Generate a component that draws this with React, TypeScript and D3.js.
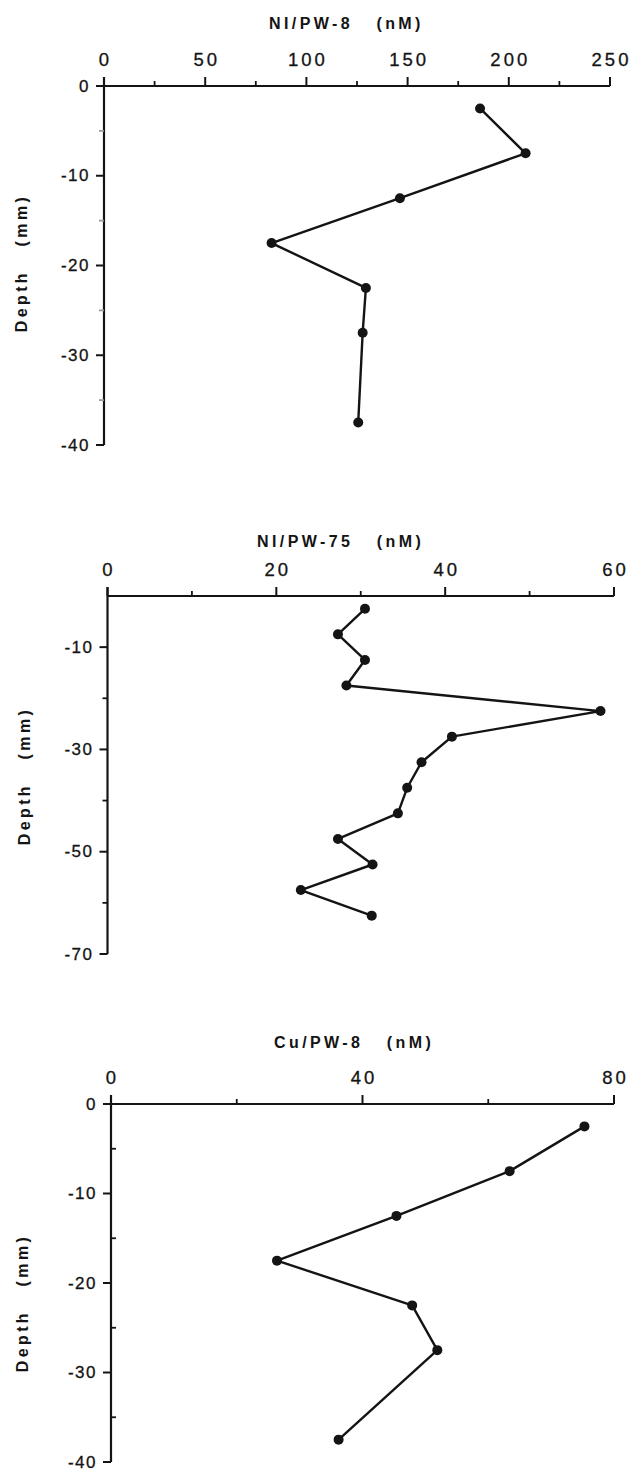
import React from "react";
import * as d3 from "d3";

// ---------- data ----------
const niPw8Depth = [-2.5, -7.5, -12.5, -17.5, -22.5, -27.5, -37.5];
const niPw8Values = [185.8, 208.3, 146.2, 82.8, 129.4, 127.8, 125.6];
const niPw8XTicks = [0, 50, 100, 150, 200, 250];
const niPw8XMinor = [25, 75, 125, 175, 225];
const niPw8YTicks = [0, -10, -20, -30, -40];
const niPw8YMinor = [-5, -15, -25, -35];

const niPw75Depth = [-2.5, -7.5, -12.5, -17.5, -22.5, -27.5, -32.5, -37.5, -42.5, -47.5, -52.5, -57.5, -62.5];
const niPw75Values = [30.5, 27.3, 30.5, 28.3, 58.4, 40.8, 37.2, 35.5, 34.4, 27.3, 31.4, 22.9, 31.3];
const niPw75XTicks = [0, 20, 40, 60];
const niPw75XMinor = [10, 30, 50];
const niPw75YTicks = [-10, -30, -50, -70];
const niPw75YMinor = [-20, -40, -60];

const cuPw8Depth = [-2.5, -7.5, -12.5, -17.5, -22.5, -27.5, -37.5];
const cuPw8Values = [75.3, 63.4, 45.4, 26.4, 47.9, 51.9, 36.2];
const cuPw8XTicks = [0, 40, 80];
const cuPw8XMinor = [20, 60];
const cuPw8YTicks = [0, -10, -20, -30, -40];
const cuPw8YMinor = [-5, -15, -25, -35];

const titles = ["NI/PW-8", "NI/PW-75", "Cu/PW-8"];
const unitLabel = "(nM)";
const depthLabel = "Depth";
const depthUnit = "(mm)";

const FONT = "'Liberation Sans', Arial, Helvetica, sans-serif";
const INK = "#141414";

type PanelProps = {
  title: string;
  depth: number[];
  values: number[];
  xTicks: number[];
  xMinor: number[];
  yTicks: number[];
  yMinor: number[];
  xDomain: [number, number];
  yDomain: [number, number];
  xRange: [number, number];
  yRange: [number, number];
  titleY: number;
  titleX: number;
  depthLabelX: number;
  depthLabelY: number;
  minorSide: number; // -1 left, +1 right
  minorColor: string;
};

function Panel(p: PanelProps) {
  const x = d3.scaleLinear().domain(p.xDomain).range(p.xRange);
  const y = d3.scaleLinear().domain(p.yDomain).range(p.yRange);
  const ax = x(p.xDomain[0]);
  const ay = y(0);
  const yBottom = y(p.yDomain[1]);
  const line = d3
    .line<number>()
    .x((_, i) => x(p.values[i]))
    .y((_, i) => y(p.depth[i]));
  const idx = p.values.map((_, i) => i);
  const hasZeroLabel = p.yTicks.includes(0);
  return (
    <g>
      {/* title */}
      <text
        x={p.titleX}
        y={p.titleY}
        fontFamily={FONT}
        fontWeight="bold"
        fontSize={16}
        letterSpacing={3.4}
        fill={INK}
        dominantBaseline="central"
        style={{ whiteSpace: "pre" }}
      >
        {p.title + "   " + unitLabel}
      </text>
      {/* x axis line */}
      <line
        x1={hasZeroLabel ? ax - 8 : ax}
        x2={x(p.xDomain[1])}
        y1={ay}
        y2={ay}
        stroke={INK}
        strokeWidth={2.2}
      />
      {/* y axis line */}
      <line x1={ax} x2={ax} y1={ay - 9} y2={yBottom} stroke={INK} strokeWidth={2.2} />
      {/* x major ticks */}
      {p.xTicks.map((t) => (
        <g key={"xt" + t}>
          <line x1={x(t)} x2={x(t)} y1={ay} y2={ay - 9} stroke={INK} strokeWidth={2} />
          <text
            x={x(t) + 1.5}
            y={ay - 27}
            textAnchor="middle"
            dominantBaseline="central"
            fontFamily={FONT}
            fontSize={18.5}
            letterSpacing={3}
            fill={INK}
            stroke={INK}
            strokeWidth={0.3}
          >
            {t}
          </text>
        </g>
      ))}
      {p.xMinor.map((t) => (
        <line key={"xm" + t} x1={x(t)} x2={x(t)} y1={ay} y2={ay - 5} stroke={INK} strokeWidth={1.8} />
      ))}
      {/* y major ticks */}
      {p.yTicks.map((t) => (
        <g key={"yt" + t}>
          <line x1={ax - 8} x2={ax} y1={y(t)} y2={y(t)} stroke={INK} strokeWidth={2} />
          <text
            x={ax - 14}
            y={y(t)}
            textAnchor="end"
            dominantBaseline="central"
            fontFamily={FONT}
            fontSize={17}
            letterSpacing={1.5}
            fill={INK}
            stroke={INK}
            strokeWidth={0.3}
          >
            {t}
          </text>
        </g>
      ))}
      {p.yMinor.map((t) => (
        <line
          key={"ym" + t}
          x1={ax}
          x2={ax + p.minorSide * 5}
          y1={y(t)}
          y2={y(t)}
          stroke={p.minorColor}
          strokeWidth={1.8}
        />
      ))}
      {/* depth label */}
      <text
        transform={`translate(${p.depthLabelX},${p.depthLabelY}) rotate(-90)`}
        textAnchor="middle"
        dominantBaseline="central"
        fontFamily={FONT}
        fontWeight="bold"
        fontSize={16}
        letterSpacing={3.4}
        fill={INK}
        style={{ whiteSpace: "pre" }}
      >
        {depthLabel + "   " + depthUnit}
      </text>
      {/* data */}
      <path d={line(idx) || ""} fill="none" stroke={INK} strokeWidth={2.4} strokeLinejoin="round" />
      {idx.map((i) => (
        <circle key={"pt" + i} cx={x(p.values[i])} cy={y(p.depth[i])} r={5} fill={INK} />
      ))}
    </g>
  );
}

export default function App() {
  return (
    <svg
      width={633}
      height={1473}
      style={{ position: "absolute", left: 0, top: 0, background: "#ffffff" }}
    >
      <rect x={0} y={0} width={633} height={1473} fill="#ffffff" />
      <Panel
        title={titles[0]}
        depth={niPw8Depth}
        values={niPw8Values}
        xTicks={niPw8XTicks}
        xMinor={niPw8XMinor}
        yTicks={niPw8YTicks}
        yMinor={niPw8YMinor}
        xDomain={[0, 250]}
        yDomain={[0, -40]}
        xRange={[104, 610]}
        yRange={[86, 445]}
        titleX={269}
        titleY={23}
        depthLabelX={21}
        depthLabelY={263}
        minorSide={-1}
        minorColor="#9a9a9a"
      />
      <Panel
        title={titles[1]}
        depth={niPw75Depth}
        values={niPw75Values}
        xTicks={niPw75XTicks}
        xMinor={niPw75XMinor}
        yTicks={niPw75YTicks}
        yMinor={niPw75YMinor}
        xDomain={[0, 60]}
        yDomain={[0, -70]}
        xRange={[107.5, 614]}
        yRange={[596, 954]}
        titleX={257}
        titleY={541}
        depthLabelX={24}
        depthLabelY={776}
        minorSide={-1}
        minorColor={INK}
      />
      <Panel
        title={titles[2]}
        depth={cuPw8Depth}
        values={cuPw8Values}
        xTicks={cuPw8XTicks}
        xMinor={cuPw8XMinor}
        yTicks={cuPw8YTicks}
        yMinor={cuPw8YMinor}
        xDomain={[0, 80]}
        yDomain={[0, -40]}
        xRange={[111, 614]}
        yRange={[1104, 1462]}
        titleX={274}
        titleY={1042}
        depthLabelX={22}
        depthLabelY={1303}
        minorSide={1}
        minorColor={INK}
      />
    </svg>
  );
}
